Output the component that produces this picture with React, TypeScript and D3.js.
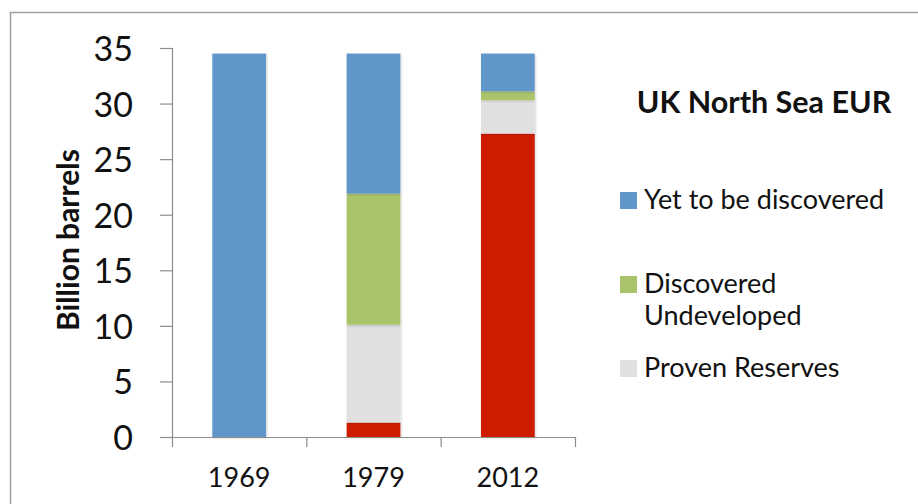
import React from "react";
import * as d3 from "d3";

const categories = ["1969", "1979", "2012"];
const seriesNames = ["Produced", "Proven Reserves", "Discovered Undeveloped", "Yet to be discovered"];
const produced = [0, 1.3, 27.3];
const provenReserves = [0, 8.8, 3.0];
const discoveredUndeveloped = [0, 11.8, 0.8];
const yetToBeDiscovered = [34.5, 12.6, 3.4];
const yTicks = [0, 5, 10, 15, 20, 25, 30, 35];
const colors = ["#CD1C00", "#E0E0E0", "#AAC46C", "#6096C9"];

const legendItems = [
  { name: "Yet to be discovered", lines: ["Yet to be discovered"], color: colors[3] },
  { name: "Discovered Undeveloped", lines: ["Discovered", "Undeveloped"], color: colors[2] },
  { name: "Proven Reserves", lines: ["Proven Reserves"], color: colors[1] },
];

export default function App() {
  const W = 918, H = 504;
  const x0 = 172, x1 = 575, yBottom = 437, yTop = 48;
  const font = "Lato, 'Open Sans', sans-serif";

  const rows = categories.map((c, i) => ({
    cat: c,
    "Produced": produced[i],
    "Proven Reserves": provenReserves[i],
    "Discovered Undeveloped": discoveredUndeveloped[i],
    "Yet to be discovered": yetToBeDiscovered[i],
  }));
  const stack = d3.stack<any>().keys(seriesNames)(rows);

  const x = d3.scaleBand<string>().domain(categories).range([x0, x1]).paddingInner(0.6).paddingOuter(0.3);
  const xTickScale = d3.scaleBand<string>().domain(categories).range([x0, x1]);
  const y = d3.scaleLinear().domain([0, 35]).range([yBottom, yTop]);

  const axisColor = "#8c8c8c";

  return (
    <svg width={W} height={H} style={{ position: "absolute", left: 0, top: 0, background: "#fff" }}>
      <defs>
        <filter id="sh" x="-10%" y="-10%" width="130%" height="130%">
          <feDropShadow dx="1" dy="1" stdDeviation="1" floodColor="#000" floodOpacity="0.18" />
        </filter>
      </defs>
      <rect x={0} y={0} width={W} height={H} fill="#fff" />
      {/* border */}
      <path d={`M10.5,${H + 2} L10.5,12.5 L${W + 2},12.5`} fill="none" stroke="#a0a0a0" strokeWidth={1.5} />

      {/* bars */}
      {stack.map((s, si) => (
        <g key={s.key} fill={colors[si]}>
          {s.map((d, i) =>
            d[1] - d[0] > 0 ? (
              <rect
                key={i}
                x={x(categories[i])}
                y={y(d[1])}
                width={x.bandwidth()}
                height={y(d[0]) - y(d[1])}
                filter="url(#sh)"
              />
            ) : null
          )}
        </g>
      ))}

      {/* y axis */}
      <line x1={x0 + 0.5} x2={x0 + 0.5} y1={y(35)} y2={yBottom} stroke={axisColor} strokeWidth={1.2} />
      {yTicks.map((t) => (
        <g key={t}>
          <line x1={160} x2={x0} y1={y(t) + 0.5} y2={y(t) + 0.5} stroke={axisColor} strokeWidth={1.2} />
          <text x={133} y={y(t) + 13} textAnchor="end" fontFamily={font} fontSize={34} fill="#111">
            {t}
          </text>
        </g>
      ))}

      {/* x axis */}
      <line x1={x0} x2={x1} y1={yBottom + 0.5} y2={yBottom + 0.5} stroke={axisColor} strokeWidth={1.2} />
      {[...categories.map((c) => xTickScale(c) as number), x1].map((tx, i) => (
        <line key={i} x1={tx + 0.5} x2={tx + 0.5} y1={yBottom} y2={yBottom + 10} stroke={axisColor} strokeWidth={1.2} />
      ))}
      {categories.map((c) => (
        <text
          key={c}
          x={(x(c) as number) + x.bandwidth() / 2}
          y={487}
          textAnchor="middle"
          fontFamily={font}
          fontSize={27}
          fill="#111"
        >
          {c}
        </text>
      ))}

      {/* y axis title */}
      <text
        transform={`translate(79,240) rotate(-90)`}
        textAnchor="middle"
        fontFamily={font}
        fontWeight="bold"
        fontSize={30}
        fill="#111"
      >
        Billion barrels
      </text>

      {/* title */}
      <text x={764} y={113} textAnchor="middle" fontFamily={font} fontWeight="bold" fontSize={30.5} fill="#111">
        UK North Sea EUR
      </text>

      {/* legend */}
      {legendItems.map((item, i) => {
        const top = [192, 276, 360][i];
        return (
          <g key={item.name}>
            <rect x={620} y={top} width={17} height={17} fill={item.color} />
            {item.lines.map((ln, j) => (
              <text key={j} x={644} y={top + 17 + j * 32} fontFamily={font} fontSize={27} fill="#111">
                {ln}
              </text>
            ))}
          </g>
        );
      })}
    </svg>
  );
}
